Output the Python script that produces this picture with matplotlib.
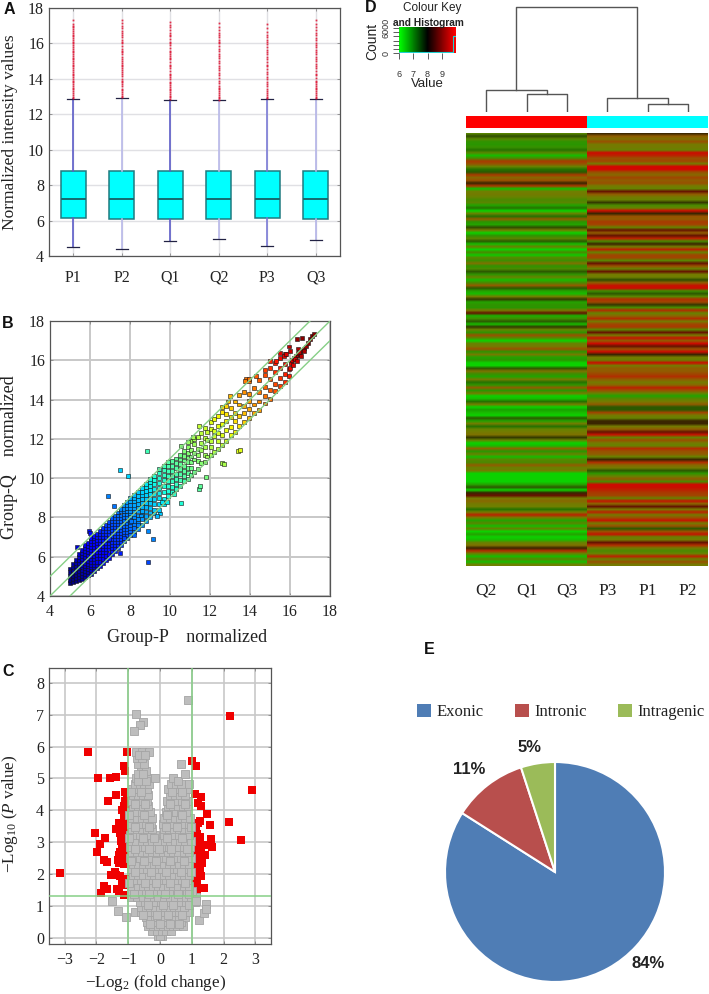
import matplotlib
matplotlib.use('Agg')
import matplotlib.pyplot as plt
import numpy as np
from matplotlib.colors import LinearSegmentedColormap, ListedColormap, Normalize
from matplotlib.patches import Patch

plt.rcParams['font.family'] = ['Liberation Serif', 'DejaVu Serif']
plt.rcParams['mathtext.fontset'] = 'custom'
plt.rcParams['mathtext.rm'] = 'Liberation Serif'
plt.rcParams['mathtext.it'] = 'Liberation Serif:italic'

FIG_W, FIG_H = 709, 994

# Panel A
A_LABELS = ['P1', 'P2', 'Q1', 'Q2', 'P3', 'Q3']
A_Q1 = [6.12, 6.11, 6.10, 6.11, 6.12, 6.10]
A_MED = [7.2, 7.2, 7.2, 7.2, 7.2, 7.2]
A_Q3 = [8.82, 8.82, 8.80, 8.80, 8.82, 8.81]
A_LOW = [4.5, 4.4, 4.87, 4.95, 4.57, 4.93]
A_HIGH = [12.87, 12.9, 12.82, 12.78, 12.87, 12.85]
A_WHISK = ['#5c5cc8', '#b9b9ea', '#5c5cc8', '#b9b9ea', '#7a7ad6', '#b4b4e8']
A_FLIERS = [
    [12.9, 13.0, 13.1, 13.2, 13.3, 13.4, 13.5, 13.6, 13.7, 13.8, 13.9, 14.0, 14.1, 14.2, 14.3, 14.4, 14.5, 14.6, 14.7,
     14.8, 14.9, 15.0, 15.1, 15.2, 15.3, 15.4, 15.5, 15.6, 15.7, 15.8, 15.9, 16.0, 16.1, 16.2, 16.3, 16.4, 16.5, 16.6,
     16.7, 16.8, 16.9, 17.0, 17.1, 17.3],
    [12.95, 13.05, 13.15, 13.25, 13.35, 13.45, 13.6, 13.7, 13.8, 13.9, 14.0, 14.15, 14.3, 14.4, 14.5, 14.6, 14.7, 14.8,
     14.9, 15.0, 15.1, 15.25, 15.4, 15.5, 15.6, 15.7, 15.85, 16.0, 16.1, 16.2, 16.35, 16.5, 16.6, 16.7, 16.85, 17.0,
     17.15, 17.3],
    [12.85, 12.95, 13.05, 13.15, 13.25, 13.35, 13.45, 13.55, 13.65, 13.75, 13.85, 14.0, 14.1, 14.2, 14.3, 14.45, 14.6,
     14.7, 14.8, 14.95, 15.1, 15.2, 15.3, 15.4, 15.5, 15.6, 15.75, 15.9, 16.0, 16.1, 16.25, 16.4, 16.5, 16.6, 16.75,
     16.9, 17.05, 17.2],
    [12.8, 12.9, 13.0, 13.1, 13.2, 13.3, 13.4, 13.5, 13.6, 13.75, 13.9, 14.05, 14.2, 14.35, 14.5, 14.6, 14.75, 14.9,
     15.0, 15.15, 15.3, 15.4, 15.55, 15.7, 15.85, 16.0, 16.1, 16.2, 16.35, 16.5, 16.6, 16.75, 16.95, 17.15],
    [12.9, 13.0, 13.1, 13.2, 13.3, 13.45, 13.6, 13.7, 13.85, 14.0, 14.1, 14.25, 14.4, 14.55, 14.7, 14.8, 14.95, 15.1,
     15.25, 15.4, 15.5, 15.65, 15.8, 15.95, 16.1, 16.2, 16.35, 16.5, 16.65, 16.85, 17.1],
    [12.9, 13.0, 13.1, 13.2, 13.3, 13.4, 13.5, 13.6, 13.7, 13.8, 13.9, 14.05, 14.2, 14.3, 14.45, 14.6, 14.7, 14.85, 15.0,
     15.1, 15.25, 15.4, 15.5, 15.65, 15.8, 15.9, 16.05, 16.2, 16.3, 16.45, 16.6, 16.75, 16.9, 17.1, 17.3],
]

# Panel B: dense part as columns (group-P value, group-Q values)
B_DENSE = [
    (5.0, [4.65, 4.8, 5.0, 5.2, 5.4]),
    (5.15, [4.7, 4.85, 5.0, 5.15, 5.3, 5.45, 5.65]),
    (5.3, [4.75, 4.9, 5.05, 5.2, 5.35, 5.5, 5.7, 5.85]),
    (5.45, [4.8, 4.95, 5.1, 5.25, 5.4, 5.55, 5.7, 5.85, 6.0, 6.15]),
    (5.6, [4.85, 5.0, 5.15, 5.3, 5.45, 5.6, 5.75, 5.9, 6.05, 6.2, 6.35]),
    (5.75, [4.95, 5.1, 5.25, 5.4, 5.55, 5.7, 5.85, 6.0, 6.15, 6.3, 6.45, 6.6]),
    (5.9, [5.05, 5.2, 5.35, 5.5, 5.65, 5.8, 5.95, 6.1, 6.25, 6.4, 6.55, 6.7]),
    (6.05, [5.1, 5.3, 5.45, 5.6, 5.75, 5.9, 6.05, 6.2, 6.35, 6.5, 6.65, 6.8, 6.95]),
    (6.2, [5.25, 5.45, 5.6, 5.75, 5.9, 6.05, 6.2, 6.35, 6.5, 6.65, 6.8, 6.95, 7.05]),
    (6.35, [5.4, 5.6, 5.75, 5.95, 6.1, 6.25, 6.4, 6.55, 6.7, 6.85, 7.0, 7.15]),
    (6.5, [5.55, 5.75, 5.95, 6.1, 6.25, 6.4, 6.55, 6.7, 6.85, 7.0, 7.15, 7.3]),
    (6.65, [5.7, 5.9, 6.1, 6.25, 6.4, 6.55, 6.7, 6.85, 7.0, 7.15, 7.3, 7.45]),
    (6.8, [5.85, 6.05, 6.25, 6.4, 6.55, 6.7, 6.85, 7.0, 7.15, 7.3, 7.45, 7.6]),
    (6.95, [5.95, 6.15, 6.4, 6.55, 6.7, 6.85, 7.0, 7.15, 7.3, 7.45, 7.6, 7.75]),
    (7.1, [6.15, 6.3, 6.45, 6.6, 6.75, 6.9, 7.05, 7.2, 7.35, 7.5, 7.65, 7.8, 7.95]),
    (7.25, [6.3, 6.45, 6.6, 6.75, 6.9, 7.05, 7.2, 7.35, 7.5, 7.65, 7.8, 7.95, 8.1]),
    (7.4, [6.45, 6.6, 6.75, 6.9, 7.05, 7.2, 7.35, 7.5, 7.65, 7.8, 7.95, 8.1, 8.25]),
    (7.55, [6.6, 6.75, 6.9, 7.05, 7.2, 7.35, 7.5, 7.65, 7.8, 7.95, 8.1, 8.3, 8.45]),
    (7.7, [6.8, 6.95, 7.1, 7.25, 7.4, 7.55, 7.7, 7.85, 8.0, 8.15, 8.3, 8.45, 8.65]),
    (7.85, [6.95, 7.1, 7.25, 7.4, 7.55, 7.7, 7.85, 8.0, 8.15, 8.3, 8.5, 8.65, 8.8]),
    (8.0, [7.1, 7.3, 7.45, 7.6, 7.75, 7.9, 8.05, 8.2, 8.35, 8.5, 8.65, 8.85, 9.0]),
    (8.2, [7.25, 7.45, 7.65, 7.8, 8.0, 8.15, 8.3, 8.5, 8.65, 8.85, 9.0, 9.15]),
    (8.4, [7.4, 7.7, 7.9, 8.1, 8.3, 8.5, 8.7, 8.9, 9.1, 9.3]),
    (8.6, [7.6, 7.9, 8.15, 8.35, 8.55, 8.75, 8.95, 9.15, 9.3, 9.5]),
    (8.8, [7.8, 8.05, 8.3, 8.55, 8.75, 8.95, 9.15, 9.35, 9.55, 9.7]),
    (9.0, [8.0, 8.25, 8.5, 8.75, 8.95, 9.2, 9.4, 9.6, 9.8, 9.95]),
    (9.2, [8.2, 8.4, 8.7, 8.95, 9.2, 9.45, 9.7, 9.9, 10.1]),
    (9.45, [8.4, 8.7, 9.0, 9.25, 9.5, 9.75, 10.0, 10.25, 10.45]),
    (9.7, [8.7, 8.95, 9.3, 9.6, 9.9, 10.15, 10.4, 10.6]),
    (9.9, [9.1, 9.35, 9.6, 9.85, 10.1, 10.35, 10.6, 10.8]),
    (10.1, [9.3, 9.55, 9.85, 10.1, 10.35, 10.6, 10.85]),
    (10.3, [9.45, 9.7, 9.95, 10.2, 10.5, 10.75, 11.0]),
    (10.5, [9.6, 9.9, 10.2, 10.45, 10.7, 10.95, 11.2]),
    (10.7, [9.85, 10.1, 10.35, 10.6, 10.9, 11.15, 11.4]),
    (10.9, [9.95, 10.25, 10.5, 10.8, 11.05, 11.3, 11.6]),
    (11.05, [10.15, 10.5, 10.8, 11.1, 11.45, 11.9]),
    (11.2, [10.3, 10.95, 11.3, 11.75, 12.0]),
    (11.4, [10.45, 10.85, 11.2, 11.5, 12.1]),
    (11.55, [10.75, 11.45, 11.8, 12.3]),
    (11.75, [10.8, 11.2, 11.6, 12.05, 12.55]),
    (11.85, [11.1, 11.95, 12.35]),
    (12.05, [11.2, 11.6, 11.9, 12.5, 12.85]),
    (12.2, [11.35, 12.15, 12.4, 13.0]),
    (12.4, [11.5, 11.9, 12.3, 12.65, 13.15]),
    (12.6, [11.7, 12.2, 12.75, 13.35]),
    (12.8, [11.9, 12.45, 12.9, 13.25, 13.65]),
    (13.05, [12.2, 12.6, 13.1, 13.55]),
    (13.25, [12.35, 12.9, 13.3, 13.9]),
    (13.45, [12.65, 13.15, 13.75, 14.25]),
    (13.7, [12.85, 13.3, 13.65, 14.4]),
    (13.95, [13.05, 13.5, 13.95, 14.3, 14.95]),
    (14.2, [13.3, 13.75, 14.6]),
    (14.45, [13.45, 13.9, 14.4, 15.0]),
    (14.75, [13.8, 14.2, 14.65, 15.25, 15.5]),
    (15.0, [14.05, 14.5, 15.05, 15.6, 15.95]),
    (15.25, [14.45, 14.8, 15.4, 15.85]),
    (15.5, [14.7, 15.1, 15.6, 16.1, 16.35]),
    (15.75, [14.9, 15.3, 15.8, 16.3]),
    (15.95, [15.2, 15.55, 16.7]),
]
# Panel B: sparse points, as (group-P, group-Q)
B_SPARSE = [
    (7.5, 10.4), (7.9, 10.1), (6.9, 9.1), (7.2, 8.6), (5.35, 6.5), (5.97, 7.3), (6.0, 7.2), (6.93, 6.9), (7.5, 6.2),
    (7.7, 6.95), (8.2, 7.1), (8.4, 7.6), (8.9, 5.75), (9.15, 6.9), (8.9, 7.3), (8.05, 7.8), (8.55, 8.1), (9.6, 8.8),
    (8.85, 11.4), (9.85, 8.8), (9.5, 8.2), (9.35, 8.05), (10.2, 9.2), (10.55, 8.75), (10.55, 11.65),
    (10.9, 11.85), (11.15, 12.1), (11.45, 12.65), (11.45, 9.45), (11.5, 9.6), (11.8, 10.05), (12.6, 10.75),
    (12.7, 10.7), (12.9, 13.9), (13.4, 11.4), (13.5, 11.42), (12.6, 13.6), (13.0, 14.2), (13.8, 15.05), (14.3, 15.2),
    (13.75, 14.95), (13.95, 15.05), (15.3, 15.95), (16.35, 17.1), (16.4, 16.6), (16.6, 17.15), (15.7, 16.2),
    (16.0, 15.6), (16.05, 15.85), (16.1, 16.0), (16.2, 16.1), (16.3, 16.2), (16.4, 16.25), (16.5, 16.3), (16.6, 16.5),
    (16.7, 16.6), (16.8, 16.7), (16.9, 16.9), (17.0, 17.1), (17.1, 17.25), (17.2, 17.35), (16.25, 16.05), (16.4, 16.35),
    (16.45, 16.4), (16.55, 16.2), (16.35, 15.95), (16.7, 16.45), (16.15, 15.75), (16.0, 16.45), (15.8, 16.3),
]

# Panel C: grey points as rows (-log10 p, log2 fold change values)
C_GREY_ROWS = [
    (0.05, [-0.05, 0.05, 0.0]),
    (0.2, [-0.25, -0.1, 0.05, 0.2, 0.35]),
    (0.35, [-0.38, -0.22, -0.06, 0.1, 0.26, 0.42, 0.55, 0.72]),
    (0.5, [-0.42, -0.27, -0.1, 0.05, 0.2, 0.35, 0.5, 0.65]),
    (0.65, [-0.45, -0.3, -0.15, 0.0, 0.15, 0.3, 0.45, 0.6, 0.8]),
    (0.8, [-0.8, -0.6, -0.45, -0.3, -0.15, 0.0, 0.15, 0.3, 0.45, 0.6, 0.75, 0.92]),
    (0.95, [-0.6, -0.45, -0.3, -0.15, 0.0, 0.15, 0.3, 0.45, 0.6, 0.75]),
    (1.12, [-0.62, -0.46, -0.3, -0.14, 0.02, 0.18, 0.34, 0.5, 0.66, 0.82, 1.1]),
    (1.28, [-0.9, -0.72, -0.55, -0.38, -0.2, -0.05, 0.12, 0.3, 0.48, 0.65, 0.82, 0.98, 1.12]),
    (1.45, [-0.92, -0.76, -0.6, -0.44, -0.28, -0.12, 0.04, 0.2, 0.36, 0.52, 0.68, 0.84, 1.0]),
    (1.62, [-0.88, -0.7, -0.54, -0.38, -0.22, -0.06, 0.1, 0.26, 0.42, 0.58, 0.74, 0.9]),
    (1.8, [-0.92, -0.76, -0.6, -0.44, -0.28, -0.12, 0.04, 0.2, 0.36, 0.52, 0.68, 0.84]),
    (1.98, [-0.85, -0.68, -0.52, -0.36, -0.2, -0.04, 0.12, 0.28, 0.44, 0.6, 0.76, 0.92]),
    (2.15, [-0.9, -0.74, -0.58, -0.42, -0.26, -0.1, 0.06, 0.22, 0.38, 0.54, 0.7, 0.86]),
    (2.32, [-0.85, -0.68, -0.52, -0.36, -0.2, -0.04, 0.12, 0.28, 0.44, 0.6, 0.76, 0.92]),
    (2.5, [-0.95, -0.78, -0.62, -0.46, -0.3, -0.14, 0.02, 0.18, 0.34, 0.5, 0.66, 0.82, 0.98]),
    (2.68, [-0.88, -0.72, -0.56, -0.4, -0.24, -0.08, 0.1, 0.26, 0.42, 0.58, 0.74, 0.9]),
    (2.86, [-0.95, -0.78, -0.62, -0.46, -0.3, -0.14, 0.12, 0.28, 0.44, 0.6, 0.76, 0.94]),
    (3.04, [-0.9, -0.74, -0.58, -0.42, -0.26, -0.1, 0.16, 0.32, 0.48, 0.64, 0.8, 0.96]),
    (3.22, [-0.95, -0.78, -0.62, -0.46, -0.3, -0.16, 0.12, 0.28, 0.44, 0.6, 0.76, 0.9]),
    (3.4, [-0.88, -0.72, -0.56, -0.4, -0.24, 0.12, 0.28, 0.44, 0.6, 0.76, 0.92]),
    (3.58, [-0.92, -0.76, -0.6, -0.44, -0.28, 0.1, 0.26, 0.42, 0.58, 0.74, 0.9]),
    (3.76, [-0.88, -0.72, -0.56, -0.4, -0.26, 0.14, 0.3, 0.46, 0.62, 0.78, 0.94]),
    (3.94, [-0.9, -0.74, -0.58, -0.42, -0.3, 0.18, 0.34, 0.5, 0.66, 0.82]),
    (4.12, [-0.86, -0.7, -0.54, -0.38, 0.24, 0.4, 0.56, 0.72, 0.88]),
    (4.3, [-0.88, -0.72, -0.56, -0.4, 0.22, 0.38, 0.54, 0.7, 0.85]),
    (4.48, [-0.84, -0.68, -0.52, -0.38, 0.3, 0.46, 0.62, 0.78]),
    (4.66, [-0.88, -0.72, -0.56, -0.42, 0.24, 0.4, 0.56, 0.7, 0.86]),
    (4.84, [-0.8, -0.64, -0.5, -0.35, 0.36, 0.5, 0.66, 0.9]),
    (5.02, [-0.74, -0.58, -0.42, -0.15, 0.42]),
    (5.25, [-0.6, -0.45]),
    (5.44, [-0.7, -0.5, 0.66]),
    (5.65, [-0.72, -0.56]),
    (5.84, [-0.74, -0.58, -0.36]),
    # a second, looser set of rows between the ones above
    (0.42, [-0.31, 0.0, 0.31, 0.6]),
    (0.72, [-0.52, -0.08, 0.24, 0.68]),
    (1.04, [-0.38, 0.1, 0.42, 0.9]),
    (1.36, [-0.82, -0.34, 0.16, 0.58, 0.92]),
    (1.71, [-0.96, -0.46, -0.14, 0.32, 0.78]),
    (2.06, [-0.78, -0.28, 0.18, 0.66, 0.98]),
    (2.41, [-0.92, -0.5, -0.12, 0.3, 0.74]),
    (2.77, [-0.8, -0.35, -0.02, 0.36, 0.84]),
    (3.13, [-0.98, -0.52, -0.18, 0.22, 0.7]),
    (3.49, [-0.8, -0.34, 0.2, 0.52, 0.98]),
    (3.85, [-0.96, -0.5, 0.22, 0.7]),
    (4.21, [-0.78, -0.46, 0.3, 0.78]),
    (4.57, [-0.92, -0.6, 0.38, 0.7]),
    (4.93, [-0.7, -0.44, 0.58]),
    (5.14, [-0.68, -0.52]),
    (5.75, [-0.66, -0.48]),
]
C_GREY_EXTRA = [(0.88, 7.47), (-0.75, 7.01), (-0.55, 6.78), (-0.62, 6.69), (-0.83, 6.49), (0.78, 5.14), (-1.52, 1.15),
                (-1.31, 0.83), (-1.06, 0.65), (1.24, 0.56), (1.39, 0.78), (1.45, 1.07), (1.45, 0.91), (1.12, 1.15)]
C_RED = [(-2.26, 5.82), (-1.95, 5.0), (-1.58, 5.0), (-1.38, 5.05), (-1.05, 5.83), (-1.13, 5.4), (-1.1, 5.25),
         (-1.38, 4.48), (-1.65, 4.28), (-1.09, 4.57), (-1.14, 4.12), (-1.07, 3.9), (-1.28, 3.6), (-1.39, 3.42),
         (-2.04, 3.3), (-1.72, 3.13), (-1.9, 2.95), (-1.99, 2.7), (-1.75, 2.43), (-1.68, 2.37), (-3.15, 2.04),
         (-1.31, 2.45), (-1.55, 1.98), (-1.4, 2.07), (-1.37, 1.96), (-1.77, 1.62), (-1.68, 1.52), (-1.84, 1.4),
         (-1.35, 1.54), (-1.28, 1.46), (-1.12, 1.35), (-1.18, 1.7), (-1.1, 1.83), (-1.05, 4.5), (-1.1, 4.3),
         (-1.05, 4.0), (-1.12, 3.8), (-1.25, 3.5), (-1.05, 3.7), (-1.15, 3.5), (-1.25, 3.3), (-1.05, 3.35),
         (-1.15, 3.2), (-1.22, 3.05), (-1.05, 3.0), (-1.12, 2.85), (-1.2, 2.75), (-1.05, 2.6), (-1.15, 2.6),
         (-1.22, 2.45), (-1.05, 2.35), (-1.12, 2.3), (-1.05, 2.75), (-1.12, 2.9), (-1.3, 2.6), (-1.2, 1.8),
         (-1.05, 3.55), (-1.18, 3.4), (-1.32, 3.42), (-1.18, 2.95), (-1.08, 3.15), (-1.26, 2.7), (-1.18, 2.35),
         (-1.08, 2.5), (-1.1, 4.2), (-1.05, 3.85), (-1.18, 4.0), (-1.28, 2.35), (-1.15, 1.65), (-1.25, 1.95),
         (2.19, 6.95), (2.9, 4.64), (2.17, 3.62), (2.55, 3.07), (1.01, 5.55), (1.13, 5.4), (1.1, 4.52), (1.29, 4.41),
         (1.18, 4.24), (1.28, 4.14), (1.48, 3.88), (1.26, 3.66), (1.56, 3.55), (1.6, 3.1), (1.64, 2.86), (1.37, 2.9),
         (1.42, 2.59), (1.39, 1.56), (1.17, 1.49), (1.0, 1.7), (1.0, 2.12), (1.05, 3.3), (1.15, 3.25), (1.25, 3.15),
         (1.05, 3.1), (1.15, 3.0), (1.25, 2.95), (1.08, 2.85), (1.18, 2.8), (1.3, 2.75), (1.05, 2.65), (1.15, 2.6),
         (1.25, 2.55), (1.08, 2.45), (1.2, 2.4), (1.32, 2.35), (1.05, 2.25), (1.15, 2.2), (1.25, 2.15), (1.08, 2.05),
         (1.18, 2.0), (1.28, 1.95), (1.1, 3.55), (1.2, 3.6), (1.1, 1.85), (1.2, 2.1), (1.25, 2.9), (1.0, 3.4),
         (1.1, 2.75), (1.2, 2.5), (1.12, 3.42), (1.22, 3.05), (1.3, 2.55), (1.12, 2.35), (1.22, 2.7), (1.15, 1.75)]

# Panel D
D_SAMPLES = ['Q2', 'Q1', 'Q3', 'P3', 'P1', 'P2']
D_LEAF_X = [0.5, 1.5, 2.5, 3.5, 4.5, 5.5]
D_HEIGHTS = {'q_low': 18, 'q_up': 22, 'p_low': 8, 'p_up': 14, 'root': 105}
D_GROUPS = [0, 0, 0, 1, 1, 1]
D_Q = [
    7.2, 5.4, 7.2, 6.6, 6.5, 6.7, 5.6, 7.2, 6.2, 7.0, 8.8, 8.4, 7.4, 5.6, 5.5, 8.8, 8.0, 8.4, 5.0, 8.8, 6.2, 7.5,
    7.6, 7.4, 7.0, 7.2, 6.4, 5.6, 6.0, 7.4, 5.6, 8.2, 6.5, 6.4, 5.4, 7.6, 6.0,
    6.6, 7.2, 5.5, 6.2, 7.4, 6.0, 7.0, 6.1, 7.2, 6.8, 7.8, 6.6, 7.0, 5.5, 6.6, 7.4, 6.2, 7.0, 8.2, 5.5, 6.4, 6.2,
    7.5, 5.2, 6.4, 6.6, 6.5, 7.6, 4.5, 6.3, 6.8, 5.5, 6.2, 5.2, 7.4, 6.6, 8.4, 7.2, 6.0, 7.4,
    7.6, 8.4, 6.6, 7.6, 6.4, 6.5, 6.0, 6.0, 5.5, 7.8, 6.8, 6.4, 7.6, 5.6, 6.6, 8.2, 6.5, 7.6, 6.0, 6.2, 5.6, 7.6,
    6.0, 5.8, 6.2, 6.0, 5.5, 6.4, 7.6, 5.6, 7.4, 7.6, 7.8, 5.2, 7.4, 6.0, 6.2, 8.0, 6.5,
    7.4, 6.2, 7.2, 7.0, 8.2, 7.4, 7.6, 6.0, 6.0, 6.0, 6.0, 6.4, 5.5, 6.0, 5.0, 4.5, 7.6, 8.0, 7.6, 7.5, 5.6, 7.6,
    9.2, 7.6, 6.4, 7.2, 6.2, 7.4, 6.0, 6.4, 6.0, 6.2, 7.4, 7.8, 5.0, 9.0, 7.4, 6.2, 7.2, 6.2, 7.5,
]
D_P = [
    5.0, 8.2, 7.8, 8.4, 7.6, 7.6, 7.4, 9.6, 9.2, 8.4, 8.6, 7.6, 9.8, 9.8, 8.4, 8.0, 8.6, 8.2, 8.4, 7.6, 7.4, 4.5,
    8.2, 7.6, 7.4, 5.2, 7.0, 7.4, 9.6, 5.0, 8.4, 8.2, 8.8, 8.6, 7.4, 4.5, 8.2,
    4.5, 9.2, 7.0, 5.0, 7.6, 9.2, 7.4, 8.6, 8.6, 7.2, 4.5, 8.4, 7.4, 4.5, 7.6, 7.5, 5.4, 8.2, 9.4, 9.6, 6.8, 5.5,
    7.2, 9.0, 8.6, 5.2, 7.0, 9.0, 7.4, 8.0, 9.0, 7.6, 8.6, 8.8, 7.2, 4.5, 7.6, 9.4, 8.2, 9.6,
    4.5, 8.4, 9.6, 5.0, 7.6, 7.4, 9.6, 7.6, 8.2, 8.2, 8.6, 9.0, 8.2, 7.6, 8.0, 9.2, 8.4, 7.4, 6.4, 7.2, 7.6, 8.2,
    5.5, 5.5, 8.6, 7.6, 7.4, 5.0, 5.0, 7.6, 8.2, 4.5, 9.4, 7.4, 8.4, 7.6, 7.4, 9.0, 8.4,
    8.2, 7.4, 5.0, 9.0, 8.0, 7.6, 5.5, 6.6, 7.4, 8.2, 7.0, 9.6, 9.6, 9.2, 8.8, 8.6, 7.4, 9.4, 8.0, 4.5, 7.6, 9.2,
    7.6, 8.4, 9.4, 7.6, 8.4, 5.5, 8.4, 9.4, 7.4, 7.6, 4.5, 9.0, 7.6, 7.0, 7.4, 9.2, 7.4, 8.4, 7.6,
]
D_NODES = [4.5, 5.0, 5.5, 6.0, 6.5, 7.0, 7.5, 8.0, 8.5, 9.0, 9.5, 10.0]
D_COLORS = ['#661400', '#3a2600', '#2c5a00', '#0cd400', '#2a9600', '#4a8a00', '#6f8000', '#886800', '#9c4c00',
            '#b03000', '#c81000', '#d80000']
KEY_X = [6.0, 6.5, 7.0, 7.5, 8.0, 8.5, 9.0, 9.5, 9.8, 9.8, 10.0]
KEY_COUNT = [250, 250, 200, 200, 350, 200, 200, 250, 250, 4200, 4200]

# Panel E
E_LABELS = ['Exonic', 'Intronic', 'Intragenic']
E_VALUES = [84, 11, 5]
E_COLORS = ['#4f7db5', '#b84f4d', '#9bbb59']


def px_axes(fig, left, top, right, bottom):
    return fig.add_axes([left / FIG_W, 1 - bottom / FIG_H, (right - left) / FIG_W, (bottom - top) / FIG_H])


def fig_text(fig, x, y, s, **kw):
    kw.setdefault('ha', 'center')
    kw.setdefault('va', 'center')
    return fig.text(x / FIG_W, 1 - y / FIG_H, s, **kw)


def style_axes(ax, grid_color, grid_width):
    ax.grid(True, color=grid_color, lw=grid_width)
    ax.set_axisbelow(True)
    for s in ax.spines.values():
        s.set_color('#555555')
        s.set_linewidth(0.9)
    ax.tick_params(direction='in', length=2.5, width=0.6, color='#888888', labelsize=11.5, top=True, right=True,
                   labelcolor='#222222')


def place_labels(ax, xlabel_at=None, ylabel_at=None):
    # label centres, in axes fractions
    if xlabel_at:
        ax.xaxis.set_label_coords(*xlabel_at)
        ax.xaxis.label.set_va('center')
    if ylabel_at:
        ax.yaxis.set_label_coords(*ylabel_at)
        ax.yaxis.label.set_va('center')


def panel_a(fig):
    ax = px_axes(fig, 49, 8, 340, 256)
    stats = []
    for i, name in enumerate(A_LABELS):
        stats.append({'label': name, 'q1': A_Q1[i], 'med': A_MED[i], 'q3': A_Q3[i], 'whislo': A_LOW[i],
                      'whishi': A_HIGH[i], 'fliers': A_FLIERS[i]})
    parts = ax.bxp(stats, widths=0.51, patch_artist=True, zorder=3,
                   boxprops=dict(facecolor='#00ffff', edgecolor='#1f7a80', lw=1.1),
                   medianprops=dict(color='#146a70', lw=1.4),
                   capprops=dict(color='#222244', lw=0.9),
                   flierprops=dict(marker='s', ms=1.3, mfc='#e01030', mec='none', alpha=0.85))
    for line, c in zip(parts['whiskers'][::2], A_WHISK):
        line.set(color=c, lw=1.2)
    for line, c in zip(parts['whiskers'][1::2], A_WHISK):
        line.set(color=c, lw=1.2)
    ax.set_xlim(0.5, 6.5)
    ax.set_ylim(4, 18)
    ax.set_yticks(range(4, 19, 2))
    style_axes(ax, '#e0e0e4', 1.0)
    ax.tick_params(axis='x', pad=10)
    ax.set_ylabel('Normalized intensity values', fontsize=12.5, color='#222222')
    place_labels(ax, ylabel_at=(-0.134, 0.5))


def panel_b(fig):
    ax = px_axes(fig, 50, 321, 330, 596)
    dense = [(p, q) for p, qs in B_DENSE for q in qs]
    pts = np.array(dense + B_SPARSE)
    px, qy = pts[:, 0], pts[:, 1]
    ax.scatter(px, qy, c=(px + qy) / 2, cmap='jet', norm=Normalize(5, 17), marker='s', s=8, edgecolors='#111111',
               linewidths=0.4, zorder=3)
    for off in (-1, 0, 1):
        ax.plot([4, 18], [4 + off, 18 + off], color='#86cf86', lw=1.0, zorder=4)
    ax.set_xlim(4, 18)
    ax.set_ylim(4, 18)
    ax.set_xticks(range(4, 19, 2))
    ax.set_yticks(range(4, 19, 2))
    style_axes(ax, '#c8c8c8', 1.4)
    ax.tick_params(axis='x', pad=5.5)
    ax.set_xlabel('Group-P    normalized', fontsize=13, color='#222222')
    ax.set_ylabel('Group-Q    normalized', fontsize=13, color='#222222')
    place_labels(ax, (0.49, -0.15), (-0.143, 0.504))


def panel_c(fig):
    ax = px_axes(fig, 49, 668, 271, 944)
    grey = np.array([(x, y) for y, xs in C_GREY_ROWS for x in xs] + C_GREY_EXTRA)
    red = np.array(C_RED)
    ax.scatter(red[:, 0], red[:, 1], marker='s', s=28, color='#f00000', linewidths=0, zorder=3)
    ax.scatter(grey[:, 0], grey[:, 1], marker='s', s=26, facecolor='#bdbdbd', edgecolor='#a4a4a4', linewidths=0.6,
               zorder=4)
    for v in (-1, 1):
        ax.axvline(v, color='#86cf86', lw=1.1, zorder=5)
    ax.axhline(1.3, color='#86cf86', lw=1.1, zorder=5)
    ax.set_xlim(-3.49, 3.49)
    ax.set_ylim(-0.2, 8.47)
    ax.set_xticks(range(-3, 4))
    ax.set_xticklabels(['\u22123', '\u22122', '\u22121', '0', '1', '2', '3'])
    ax.set_yticks(range(0, 9))
    style_axes(ax, '#c8c8c8', 1.2)
    ax.tick_params(axis='x', pad=6)
    ax.set_xlabel('\u2212Log$_2$ (fold change)', fontsize=12.3, color='#222222')
    ax.set_ylabel('\u2212Log$_{10}$ ($P$ value)', fontsize=12.3, color='#222222')
    place_labels(ax, (0.482, -0.141), (-0.176, 0.473))


def panel_d(fig):
    cmap = LinearSegmentedColormap.from_list(
        'rows', [((v - D_NODES[0]) / (D_NODES[-1] - D_NODES[0]), c) for v, c in zip(D_NODES, D_COLORS)])
    n_rows = len(D_Q)
    ax = px_axes(fig, 466, 133, 708, 566)
    # each group on its own so the blur between rows does not run across the split
    for rows, x0 in ((D_Q, 0), (D_P, 3)):
        block = np.column_stack([rows, rows, rows])
        ax.imshow(block, aspect='auto', cmap=cmap, vmin=D_NODES[0], vmax=D_NODES[-1], interpolation='bilinear',
                  interpolation_stage='rgba', extent=(x0, x0 + 3, n_rows, 0))
    ax.set_xlim(0, 6)
    ax.set_ylim(n_rows, 0)
    ax.set_yticks([])
    ax.set_xticks(D_LEAF_X)
    ax.set_xticklabels(D_SAMPLES, fontsize=12.5, color='#222222')
    ax.tick_params(length=0, pad=12)
    for s in ax.spines.values():
        s.set_visible(False)

    side = px_axes(fig, 466, 116, 708, 128)
    side.imshow([D_GROUPS], aspect='auto', cmap=ListedColormap(['#ff0000', '#00ffff']), extent=(0, 6, 0, 1))
    side.axis('off')

    tree = px_axes(fig, 466, 5, 708, 112)
    tree.set_xlim(0, 6)
    tree.set_ylim(0, 107)
    tree.axis('off')
    h = D_HEIGHTS
    q_mid = (D_LEAF_X[1] + D_LEAF_X[2]) / 2
    q_top = (D_LEAF_X[0] + q_mid) / 2
    p_mid = (D_LEAF_X[4] + D_LEAF_X[5]) / 2
    p_top = (D_LEAF_X[3] + p_mid) / 2
    for x, h0, x1, h1, top in [
        (D_LEAF_X[1], 0, D_LEAF_X[2], 0, h['q_low']),
        (D_LEAF_X[0], 0, q_mid, h['q_low'], h['q_up']),
        (D_LEAF_X[4], 0, D_LEAF_X[5], 0, h['p_low']),
        (D_LEAF_X[3], 0, p_mid, h['p_low'], h['p_up']),
        (q_top, h['q_up'], p_top, h['p_up'], h['root']),
    ]:
        tree.plot([x, x, x1, x1], [h0, top, top, h1], color='#555555', lw=1.0)

    key = px_axes(fig, 399, 27, 456, 53)
    key.imshow(np.linspace(6, 10, 64).reshape(1, -1), aspect='auto', extent=(6, 10, 0, 6300), zorder=1,
               cmap=LinearSegmentedColormap.from_list('key', ['#00ff00', '#000000', '#ff0000']))
    key.step(KEY_X, KEY_COUNT, color='#20d0d0', lw=0.8, where='post', zorder=2)
    key.set_xlim(6, 10)
    key.set_ylim(0, 6300)
    key.set_xticks([6, 7, 8, 9])
    key.set_xticklabels(['6', '7', '8', '9'], fontsize=6.5, family='Liberation Sans', color='#333333')
    key.set_yticks([0, 1000, 2000, 3000, 4000, 5000, 6000])
    key.set_yticklabels(['0', '', '', '', '', '', '6000'], fontsize=6.5, rotation=90, va='center',
                        family='Liberation Sans', color='#333333')
    key.tick_params(length=4, width=0.6, color='#444444', pad=2)
    key.tick_params(axis='x', pad=8)
    for s in key.spines.values():
        s.set_visible(False)
    sans = dict(family='Liberation Sans', color='#222222')
    fig_text(fig, 432, 8, 'Colour Key', fontsize=8.5, **sans)
    fig_text(fig, 428, 23, 'and Histogram', fontsize=7.3, fontweight='bold', **sans)
    fig_text(fig, 427, 84, 'Value', fontsize=9.5, **sans)
    fig_text(fig, 372, 41, 'Count', fontsize=10, rotation=90, **sans)


def panel_e(fig):
    ax = px_axes(fig, 445, 762, 665, 982)
    ax.pie(E_VALUES, colors=E_COLORS, startangle=90, counterclock=False, radius=1,
           wedgeprops=dict(edgecolor='white', linewidth=1.5))
    ax.set_xlim(-1, 1)
    ax.set_ylim(-1, 1)
    bold = dict(family='Liberation Sans', fontweight='bold', fontsize=12, color='#222222')
    fig_text(fig, 648, 964, '84%', **bold)
    fig_text(fig, 469, 770, '11%', **bold)
    fig_text(fig, 530, 747, '5%', **bold)
    handles = [Patch(facecolor=c, edgecolor='none') for c in E_COLORS]
    fig.legend(handles, E_LABELS, loc='center left', bbox_to_anchor=(417 / FIG_W, 1 - 712 / FIG_H), ncol=3,
               frameon=False, fontsize=12, handlelength=0.85, handleheight=0.85, handletextpad=0.3,
               columnspacing=1.9, labelcolor='#222222', borderpad=0, borderaxespad=0)


def main():
    fig = plt.figure(figsize=(FIG_W / 100, FIG_H / 100), dpi=100)
    panel_a(fig)
    panel_b(fig)
    panel_c(fig)
    panel_d(fig)
    panel_e(fig)

    letter = dict(family='Liberation Sans', fontweight='bold', fontsize=11.5, color='#111111')
    fig_text(fig, 9, 9, 'A', **letter)
    fig_text(fig, 8, 323, 'B', **letter)
    fig_text(fig, 8, 671, 'C', **letter)
    fig_text(fig, 371, 8, 'D', **letter)
    fig_text(fig, 429, 649, 'E', **letter)

    fig.savefig('out.png', dpi=100)


if __name__ == '__main__':
    main()
